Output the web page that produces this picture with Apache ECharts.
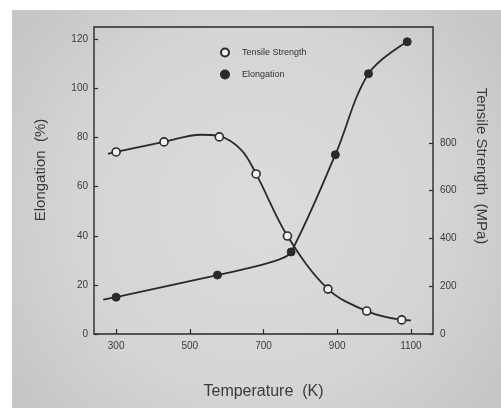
<!DOCTYPE html>
<html>
<head>
<meta charset="utf-8">
<script src="https://cdn.jsdelivr.net/npm/echarts@6/dist/echarts.min.js"></script>
<style>
  html, body { margin: 0; padding: 0; background: #ffffff; }
  #chart { width: 501px; height: 408px; }
</style>
</head>
<body>
<div id="chart"></div>
<script>
// Measured points (markers)
const tsTemp = [300, 430, 580, 680, 765, 875, 980, 1075];
const tsValue = [762, 804, 825, 670, 410, 188, 96, 59];            // MPa
const elTemp = [300, 575, 775, 895, 985, 1090];
const elValue = [15, 24, 33.4, 73, 106, 119];                       // %

// Fitted curves drawn through the measurements
const tsCurveTemp = [278, 300, 430, 530, 580, 640, 680, 765, 875, 980, 1075, 1100];
const tsCurveValue = [754, 762, 804, 834, 828, 770, 670, 410, 188, 96, 59, 57];
const elCurveTemp = [265, 300, 575, 665, 745, 775, 895, 985, 1090];
const elCurveValue = [14, 15, 24, 27, 30.5, 33.4, 73, 106, 119];

// Axis tick labels
const tempTicks = [300, 500, 700, 900, 1100];
const elTicks = [0, 20, 40, 60, 80, 100, 120];
const tsTicks = [0, 200, 400, 600, 800];

const pairs = (xs, ys) => xs.map((x, i) => [x, ys[i]]);
const plain = v => String(v);

const ink = '#2a2a2a';
const labelColor = '#3a3a3a';
const font = 'Liberation Sans, Arial, Helvetica, sans-serif';

const chart = echarts.init(document.getElementById('chart'), null, { renderer: 'canvas' });

chart.setOption({
  backgroundColor: '#ffffff',
  animation: false,
  textStyle: { fontFamily: font },
  graphic: [{
    type: 'rect',
    z: -10,
    silent: true,
    shape: { x: 12, y: 10, width: 489, height: 398 },
    style: {
      fill: {
        type: 'radial', x: 0.5, y: 0.5, r: 0.75,
        colorStops: [
          { offset: 0, color: '#dcdcda' },
          { offset: 0.6, color: '#d5d5d3' },
          { offset: 1, color: '#c6c6c5' }
        ]
      }
    }
  }],
  grid: {
    left: 94, right: 68, top: 27, bottom: 74,
    show: true,
    borderColor: ink,
    borderWidth: 1.4,
    backgroundColor: 'transparent'
  },
  legend: {
    orient: 'vertical',
    left: 220, top: 47.5,
    padding: 0,
    itemWidth: 8, itemHeight: 8,
    itemGap: 12,
    data: ['Tensile Strength', 'Elongation'],
    textStyle: { fontSize: 9, color: '#333', fontFamily: font, padding: [0, 0, 0, 8] }
  },
  xAxis: {
    type: 'value',
    min: 240, max: 1160,
    name: 'Temperature  (K)',
    nameLocation: 'middle',
    nameGap: 50,
    nameTextStyle: { fontSize: 16, color: labelColor, fontFamily: font },
    axisLine: { show: false },
    splitLine: { show: false },
    axisTick: { inside: true, length: 5, lineStyle: { color: ink, width: 1.2 }, customValues: tempTicks },
    axisLabel: { customValues: tempTicks, formatter: plain, fontSize: 10, color: labelColor, margin: 7 }
  },
  yAxis: [{
    type: 'value',
    position: 'left',
    min: 0, max: 125,
    name: 'Elongation  (%)',
    nameLocation: 'middle',
    nameGap: 46,
    nameTextStyle: { fontSize: 15, color: labelColor, fontFamily: font, padding: [0, 0, 0, 21] },
    axisLine: { show: false },
    splitLine: { show: false },
    axisTick: { inside: true, length: 4, lineStyle: { color: ink, width: 1.2 }, customValues: elTicks },
    axisLabel: { customValues: elTicks, formatter: plain, fontSize: 10, color: labelColor, margin: 6 }
  }, {
    type: 'value',
    position: 'right',
    min: 0, max: 1285,
    name: 'Tensile Strength  (MPa)',
    nameLocation: 'middle',
    nameRotate: -90,
    nameGap: 41,
    nameTextStyle: { fontSize: 15, color: labelColor, fontFamily: font, padding: [0, 29, 0, 0] },
    axisLine: { show: false },
    splitLine: { show: false },
    axisTick: { inside: true, length: 4, lineStyle: { color: ink, width: 1.2 }, customValues: tsTicks },
    axisLabel: { customValues: tsTicks, formatter: plain, fontSize: 10, color: labelColor, margin: 7 }
  }],
  series: [{
    name: 'Tensile Strength curve',
    type: 'line',
    yAxisIndex: 1,
    data: pairs(tsCurveTemp, tsCurveValue),
    smooth: 0.35,
    showSymbol: false,
    lineStyle: { color: ink, width: 1.8 },
    z: 2
  }, {
    name: 'Elongation curve',
    type: 'line',
    yAxisIndex: 0,
    data: pairs(elCurveTemp, elCurveValue),
    smooth: 0.35,
    showSymbol: false,
    lineStyle: { color: ink, width: 1.8 },
    z: 2
  }, {
    name: 'Tensile Strength',
    type: 'scatter',
    yAxisIndex: 1,
    data: pairs(tsTemp, tsValue),
    symbol: 'circle',
    symbolSize: 8,
    itemStyle: { color: '#f2f2f2', borderColor: ink, borderWidth: 1.6, opacity: 1 },
    z: 3
  }, {
    name: 'Elongation',
    type: 'scatter',
    yAxisIndex: 0,
    data: pairs(elTemp, elValue),
    symbol: 'circle',
    symbolSize: 8,
    itemStyle: { color: ink, borderColor: ink, borderWidth: 1, opacity: 1 },
    z: 3
  }]
});
</script>
</body>
</html>
